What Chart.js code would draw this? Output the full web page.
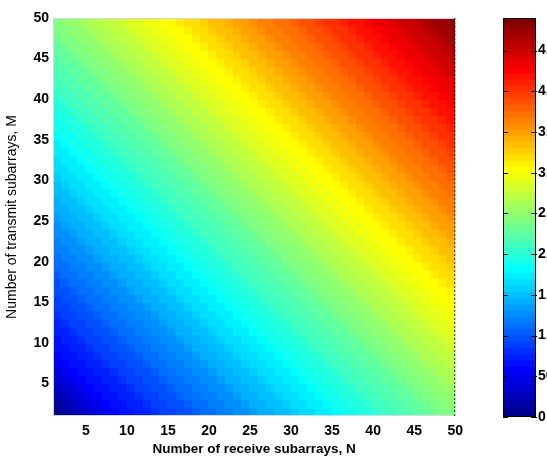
<!DOCTYPE html>
<html>
<head>
<meta charset="utf-8">
<script src="https://cdn.jsdelivr.net/npm/chart.js@4/dist/chart.umd.min.js"></script>
<style>
  html, body { margin: 0; padding: 0; background: #fff; overflow: hidden; }
  #wrap { position: relative; width: 547px; height: 459px; overflow: hidden; }
  #main { position: absolute; left: 0; top: 0; }
  #cbar { position: absolute; left: 470px; top: 0; }
</style>
</head>
<body>
<div id="wrap">
  <canvas id="main" width="470" height="459"></canvas>
  <canvas id="cbar" width="77" height="459"></canvas>
</div>
<script>
// ---- data ----
// grid nodes on both axes (cells span node k .. k+1)
const receiveN  = [1,2,3,4,5,6,7,8,9,10,11,12,13,14,15,16,17,18,19,20,21,22,23,24,25,
                   26,27,28,29,30,31,32,33,34,35,36,37,38,39,40,41,42,43,44,45,46,47,48,49,50];
const transmitM = [1,2,3,4,5,6,7,8,9,10,11,12,13,14,15,16,17,18,19,20,21,22,23,24,25,
                   26,27,28,29,30,31,32,33,34,35,36,37,38,39,40,41,42,43,44,45,46,47,48,49,50];

// value read along each anti-diagonal, index = M + N - 2 (M+N = 2 .. 100)
const valueBySum = [
     0,  100,  190,  280,  360,  440,  510,  580,
   630,  670,  720,  760,  810,  850,  900,  940,  990, 1030, 1080, 1120, 1170, 1210,
  1260, 1300, 1350, 1390, 1440, 1480, 1530, 1570, 1620, 1660, 1710, 1750, 1800, 1840,
  1890, 1930, 1980, 2020, 2070, 2110, 2160, 2200, 2250, 2290, 2340, 2380, 2430, 2480,
  2520, 2570, 2610, 2660, 2700, 2750, 2790, 2840, 2880, 2930, 2970, 3020, 3060,
  3110, 3160, 3210, 3260, 3310, 3360, 3400, 3450, 3500, 3550, 3600, 3650, 3700, 3750,
  3800, 3850, 3900, 3940, 3990, 4040, 4090, 4140, 4190, 4240, 4290,
  4350, 4400, 4460, 4510, 4570, 4620, 4680, 4730, 4790, 4840, 4900
];

const xTicks     = [5, 10, 15, 20, 25, 30, 35, 40, 45, 50];
const yTicks     = [5, 10, 15, 20, 25, 30, 35, 40, 45, 50];
const colorTicks = [0, 500, 1000, 1500, 2000, 2500, 3000, 3500, 4000, 4500];

const xTitle = 'Number of receive subarrays, N';
const yTitle = 'Number of transmit subarrays, M';

// ---- colormap (MATLAB jet, 64 levels) ----
const NLEV = 64;
const cmin = Math.min(...valueBySum);
const cmax = Math.max(...valueBySum);

function clamp01(v) { return Math.max(0, Math.min(1, v)); }
function jet(i) { // i = 1..64
    const r = clamp01(Math.min((i - 24) / 16, (72 - i) / 16));
    const g = clamp01(Math.min((i - 8) / 16, (56 - i) / 16));
    const b = clamp01(Math.min((i + 8) / 16, (40 - i) / 16));
    return `rgb(${Math.round(r * 255)},${Math.round(g * 255)},${Math.round(b * 255)})`;
}
function colorOf(v) {
    let idx = Math.floor((v - cmin) / (cmax - cmin) * NLEV) + 1;
    if (idx > NLEV) idx = NLEV;
    if (idx < 1) idx = 1;
    return jet(idx);
}

// ---- cells (pcolor style: cell [n,n+1]x[m,m+1] takes value of node (n,m)) ----
const cells = [];
const cellColors = [];
for (let j = 0; j < transmitM.length - 1; j++) {
    for (let i = 0; i < receiveN.length - 1; i++) {
        const n = receiveN[i], m = transmitM[j];
        const v = valueBySum[n + m - 2];
        cells.push({ x: (n + receiveN[i + 1]) / 2, y: [m, transmitM[j + 1]] });
        cellColors.push(colorOf(v));
    }
}

const FONT = '"Liberation Sans", Arial, Helvetica, sans-serif';

// axes frame: faint box on left/top/bottom, dotted dark line on the right
const framePlugin = {
    id: 'frame',
    afterDatasetsDraw(chart) {
        const { ctx, chartArea: a } = chart;
        ctx.save();
        ctx.strokeStyle = '#d4d6e8';
        ctx.lineWidth = 1;
        ctx.beginPath();
        ctx.moveTo(a.right, a.top + 0.5); ctx.lineTo(a.left + 0.5, a.top + 0.5);
        ctx.lineTo(a.left + 0.5, a.bottom - 0.5); ctx.lineTo(a.right, a.bottom - 0.5);
        ctx.stroke();
        ctx.strokeStyle = '#222';
        ctx.setLineDash([2, 2]);
        ctx.beginPath();
        ctx.moveTo(a.right - 0.5, a.top); ctx.lineTo(a.right - 0.5, a.bottom);
        ctx.stroke();
        ctx.restore();
    }
};

new Chart(document.getElementById('main'), {
    type: 'bar',
    data: {
        datasets: [{
            data: cells,
            backgroundColor: cellColors,
            borderWidth: 0,
            barPercentage: 1,
            categoryPercentage: 1,
            inflateAmount: 0.6
        }]
    },
    options: {
        responsive: false,
        animation: false,
        events: [],
        layout: { padding: { top: 18, right: 12, left: 0, bottom: 0 } },
        plugins: { legend: { display: false }, tooltip: { enabled: false } },
        scales: {
            x: {
                type: 'linear', min: 1, max: 50, offset: false,
                grid: { display: false, drawTicks: false },
                border: { display: false },
                afterBuildTicks: s => { s.ticks = xTicks.map(v => ({ value: v })); },
                afterFit: s => { s.height = 43; },
                ticks: { color: '#000', padding: 7, maxRotation: 0, autoSkip: false,
                         font: { family: FONT, size: 14, weight: 'bold' } },
                title: { display: true, text: xTitle, color: '#000',
                         padding: { top: 0, bottom: 2 },
                         font: { family: FONT, size: 13.5, weight: 'bold' } }
            },
            y: {
                type: 'linear', min: 1, max: 50,
                grid: { display: false, drawTicks: false },
                border: { display: false },
                afterBuildTicks: s => { s.ticks = yTicks.map(v => ({ value: v })); },
                afterFit: s => { s.width = 53; },
                ticks: { color: '#000', padding: 4,
                         font: { family: FONT, size: 14, weight: 'bold' } },
                title: { display: true, text: yTitle, color: '#000',
                         padding: { top: 4, bottom: 0 },
                         font: { family: FONT, size: 14, weight: 'normal' } }
            }
        }
    },
    plugins: [framePlugin]
});

// ---- colorbar ----
const step = (cmax - cmin) / NLEV;
const barSets = [];
for (let i = 1; i <= NLEV; i++) {
    barSets.push({
        data: [step],
        backgroundColor: jet(i),
        borderWidth: 0,
        barPercentage: 1,
        categoryPercentage: 1,
        inflateAmount: 0.6
    });
}

const cbarFrame = {
    id: 'cbarFrame',
    afterDatasetsDraw(chart) {
        const { ctx, chartArea: a } = chart;
        const ys = chart.scales.y;
        ctx.save();
        ctx.strokeStyle = '#000';
        ctx.lineWidth = 1;
        ctx.strokeRect(a.left + 0.5, a.top + 0.5, a.right - a.left - 1, a.bottom - a.top - 1);
        ctx.beginPath();
        for (const t of colorTicks) {
            const y = Math.round(ys.getPixelForValue(t)) + 0.5;
            ctx.moveTo(a.left, y); ctx.lineTo(a.left + 5, y);
            ctx.moveTo(a.right + 1, y); ctx.lineTo(a.right - 5, y);
        }
        ctx.stroke();
        ctx.restore();
    }
};

new Chart(document.getElementById('cbar'), {
    type: 'bar',
    data: { labels: [''], datasets: barSets },
    options: {
        responsive: false,
        animation: false,
        events: [],
        layout: { padding: { top: 18, bottom: 42, left: 33, right: 0 } },
        plugins: { legend: { display: false }, tooltip: { enabled: false } },
        scales: {
            x: { stacked: true, display: false },
            y: {
                stacked: true, position: 'right', min: cmin, max: cmax,
                grid: { display: false, drawTicks: false },
                border: { display: false },
                afterBuildTicks: s => { s.ticks = colorTicks.map(v => ({ value: v })); },
                afterFit: s => { s.width = 11; },
                ticks: { color: '#000', padding: 2,
                         font: { family: FONT, size: 14, weight: 'bold' } }
            }
        }
    },
    plugins: [cbarFrame]
});
</script>
</body>
</html>
